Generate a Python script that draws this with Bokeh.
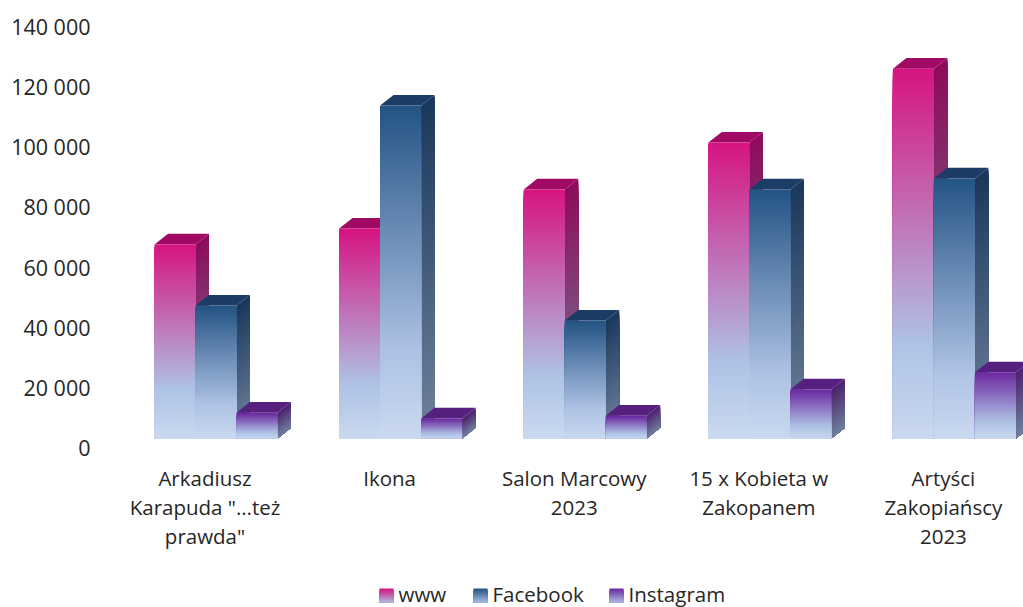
from bokeh.plotting import figure
from bokeh.models import Range1d, LinearAxis, FixedTicker
from bokeh.core.properties import value
from bokeh.embed import file_html
from bokeh.resources import INLINE

categories = ['Arkadiusz\nKarapuda "…też\nprawda"', 'Ikona', 'Salon Marcowy\n2023',
              '15 x Kobieta w\nZakopanem', 'Artyści\nZakopiańscy\n2023']
series_names = ['www', 'Facebook', 'Instagram']
www = [64500, 69800, 82800, 98400, 123000]
facebook = [44200, 110700, 39200, 82800, 86500]
instagram = [8600, 6650, 7600, 16300, 22000]
tick_values = [0, 20000, 40000, 60000, 80000, 100000, 120000, 140000]
tick_labels = ['0', '20 000', '40 000', '60 000', '80 000', '100 000', '120 000', '140 000']

FONT = "Open Sans"
TXT = "#262626"
W, H = 1023, 607
LEFT = 100         # page x of the frame's left edge
PX_X = 184.6       # pixels per category
PX_Y = 0.0030071   # pixels per value unit
X0 = 204.5         # page x of first category
BASE = 438.0       # page y of the bars' base
AXIS0 = 447.0      # page y of the axis zero
bar_w = 41 / PX_X
depth_x = 13.5 / PX_X
depth_y = 10.7 / PX_Y
first_off = -50.5 / PX_X

dx = lambda px: (px - X0) / PX_X
dy = lambda py: (BASE - py) / PX_Y

p = figure(width=W, height=H, output_backend="svg", toolbar_location=None,
           x_range=Range1d(dx(LEFT), dx(W)), y_range=Range1d(dy(H), dy(0)),
           min_border_left=LEFT, min_border_right=0, min_border_top=0, min_border_bottom=0,
           outline_line_color=None, background_fill_color="white", border_fill_color="white")
p.grid.visible = False
p.xaxis.visible = False
p.yaxis.visible = False
p.extra_y_ranges = {"axis": Range1d((AXIS0 - H) / PX_Y, AXIS0 / PX_Y)}
ax = LinearAxis(y_range_name="axis", ticker=FixedTicker(ticks=tick_values),
                major_label_overrides={v: s for v, s in zip(tick_values, tick_labels)},
                axis_line_color=None, major_tick_line_color=None, minor_tick_line_color=None,
                major_label_standoff=4, major_label_text_font=FONT,
                major_label_text_font_size="21.5px", major_label_text_color=TXT)
p.add_layout(ax, "left")

def mix(a, b, t):
    return tuple(a[i] + (b[i] - a[i]) * t for i in range(3))

def ramp(stops, t):
    for (t0, c0), (t1, c1) in zip(stops, stops[1:]):
        if t <= t1:
            return mix(c0, c1, (t - t0) / (t1 - t0))
    return stops[-1][1]

def hexc(c):
    return "#%02x%02x%02x" % tuple(int(round(v)) for v in c)

LIGHT = (174, 194, 229)
PALE = (203, 217, 240)
front_col = [(214, 20, 130), (36, 84, 132), (108, 42, 160)]
top_col = [(160, 10, 100), (27, 60, 100), (86, 32, 128)]
side_col = [(142, 12, 92), (26, 56, 92), (76, 34, 110)]
side_end = (112, 130, 156)

def front_stops(c):
    return [(0, c), (0.74, LIGHT), (1, PALE)]

def side_stops(c):
    return [(0, c), (1, side_end)]

def draw_bar(left, val, s):
    fs = front_stops(front_col[s])
    ss = side_stops(side_col[s])
    n = max(6, int(val * PX_Y / 1.5))
    # side face: each slice runs down to the base, later slices paint over it
    xs, ys, cs = [], [], []
    for k in range(n):
        t = k / n
        y = val * (1 - t)
        xs.append([left + bar_w, left + bar_w + depth_x, left + bar_w + depth_x, left + bar_w])
        ys.append([y, y + depth_y, depth_y, 0])
        cs.append(hexc(ramp(ss, t)))
    p.patches(xs, ys, fill_color=cs, line_color=None)
    # top face
    p.patch([left, left + depth_x, left + bar_w + depth_x, left + bar_w],
            [val, val + depth_y, val + depth_y, val], fill_color=hexc(top_col[s]), line_color=None)
    # front face
    l, r, t_, c_ = [], [], [], []
    for k in range(n):
        t = k / n
        l.append(left); r.append(left + bar_w)
        t_.append(val * (1 - t))
        c_.append(hexc(ramp(fs, t)))
    p.quad(left=l, right=r, top=t_, bottom=[0] * n, fill_color=c_, line_color=None)

for i in range(len(categories)):
    for s, vals in enumerate([www, facebook, instagram]):
        draw_bar(i + first_off + s * bar_w, vals[i], s)

# category labels
p.text(x=list(range(len(categories))), y=[dy(463)] * len(categories), text=categories,
       text_font=value(FONT), text_font_size="20.5px", text_color=TXT,
       text_align="center", text_baseline="top", text_line_height=1.05)

# legend
leg_swatch = [379, 473, 609]
leg_text = [398, 492, 628]
for s, name in enumerate(series_names):
    x0, x1 = dx(leg_swatch[s]), dx(leg_swatch[s] + 14)
    y_top, y_bot = dy(588), dy(602)
    n = 14
    p.quad(left=[x0] * n, right=[x1] * n,
           top=[y_top + (y_bot - y_top) * k / n for k in range(n)], bottom=[y_bot] * n,
           fill_color=[hexc(ramp([(0, front_col[s]), (1, LIGHT)], k / n)) for k in range(n)],
           line_color=None)
    p.text(x=[dx(leg_text[s])], y=[dy(593)], text=[name], text_font=value(FONT),
           text_font_size="20.5px", text_color=TXT, text_align="left", text_baseline="middle")

open("out.html", "w").write(file_html(p, INLINE))
